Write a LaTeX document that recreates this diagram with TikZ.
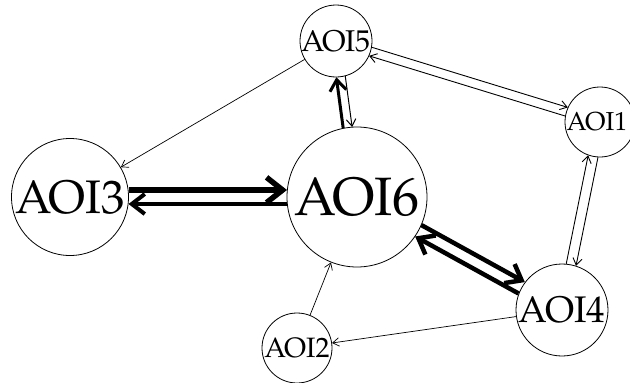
\documentclass[tikz,border=0pt]{standalone}
\usepackage{fontspec}
\setmainfont{TeX Gyre Pagella}
\usetikzlibrary{calc,arrows.meta}

% directed edge drawn beside the line of centres, offset to the left of travel
\newcommand\linkedge[6]{%
  \draw[#1, shorten <=#5, shorten >=#6]
    ($(#2)!#4!90:(#3)$) -- ($(#3)!#4!-90:(#2)$);}

\tikzset{
  aoi/.style={circle, draw=black, line width=0.8pt, inner sep=0pt, fill=white},
  lbl/.style={inner sep=0pt, text=black},
  arc/.style={draw=black, -{Straight Barb[length=5pt 2, width=6pt 3.5]}},
}

\begin{document}
\begin{tikzpicture}[x=1pt, y=-1pt]
  \useasboundingbox (0,0) rectangle (630,383);

  % areas of interest
  \node[aoi, minimum size=72pt]  (a5) at (336,41)  {};
  \node[aoi, minimum size=70pt]  (a1) at (600,122) {};
  \node[aoi, minimum size=140pt] (a6) at (357,197) {};
  \node[aoi, minimum size=117pt] (a3) at (70,197)  {};
  \node[aoi, minimum size=92pt]  (a4) at (562,310) {};
  \node[aoi, minimum size=70pt]  (a2) at (297,348) {};

  \node[lbl, font=\fontsize{30}{30}\selectfont] (t5) at (a5) {AOI5};
  \node[lbl, font=\fontsize{26}{26}\selectfont, xshift=-3pt] (t1) at (a1) {AOI1};
  \node[lbl, font=\fontsize{54}{54}\selectfont] (t6) at (a6) {AOI6};
  \node[lbl, font=\fontsize{47}{47}\selectfont] (t3) at (a3) {AOI3};
  \node[lbl, font=\fontsize{37}{37}\selectfont] (t4) at (a4) {AOI4};
  \node[lbl, font=\fontsize{28}{28}\selectfont] (t2) at (a2) {AOI2};

  % single transitions
  \draw[arc, line width=0.7pt] (a5) -- (a3);
  \draw[arc, line width=0.7pt] (a2) -- (a6);
  \draw[arc, line width=0.7pt] (a4) -- (a2);

  % paired transitions
  \linkedge{arc, line width=5.5pt}{a3}{a6}{7pt}{58.5pt}{70pt}
  \linkedge{arc, line width=4pt}{a6}{a3}{7pt}{70pt}{58.5pt}
  \linkedge{arc, line width=4.5pt}{a6}{a4}{6.5pt}{70pt}{46pt}
  \linkedge{arc, line width=4.5pt}{a4}{a6}{6.5pt}{46pt}{70pt}
  \linkedge{arc, line width=3pt}{a6}{a5}{4.5pt}{70pt}{36pt}
  \linkedge{arc, line width=1pt}{a5}{a6}{4.5pt}{36pt}{70pt}
  \linkedge{arc, line width=0.9pt}{a5}{a1}{4.5pt}{36pt}{35pt}
  \linkedge{arc, line width=0.9pt}{a1}{a5}{4.5pt}{35pt}{36pt}
  \linkedge{arc, line width=0.9pt}{a1}{a4}{5pt}{35pt}{46pt}
  \linkedge{arc, line width=0.9pt}{a4}{a1}{5pt}{46pt}{35pt}
\end{tikzpicture}
\end{document}
